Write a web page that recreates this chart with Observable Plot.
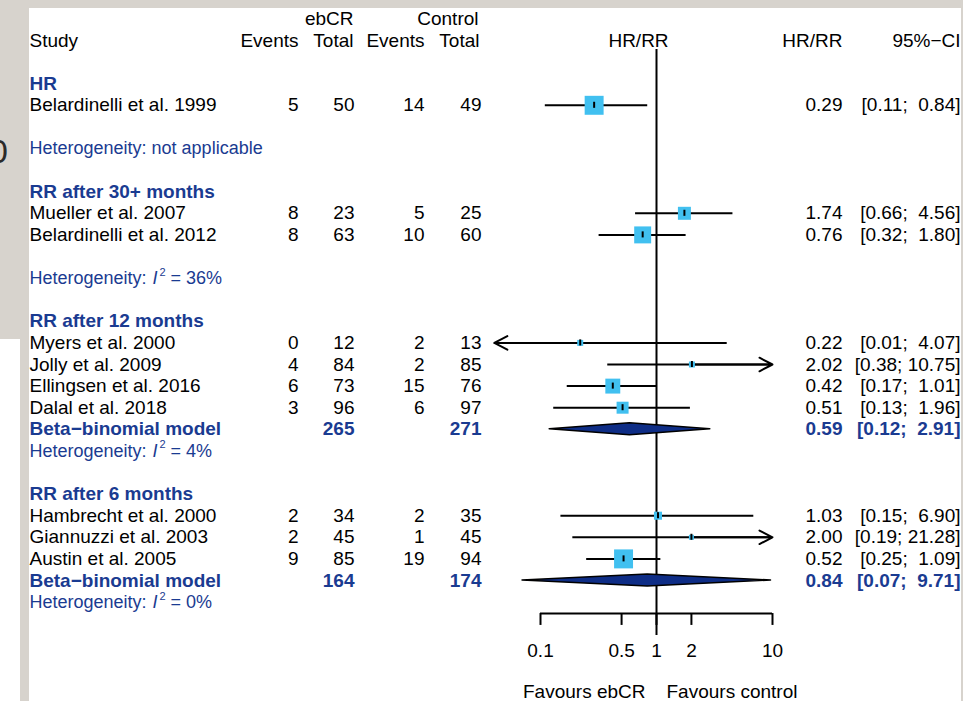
<!DOCTYPE html>
<html>
<head>
<meta charset="utf-8">
<script src="https://cdn.jsdelivr.net/npm/d3@7"></script>
<script src="https://cdn.jsdelivr.net/npm/@observablehq/plot@0.6"></script>
<style>
html, body { margin: 0; padding: 0; background: #fff; }
#page { position: relative; width: 963px; height: 701px; overflow: hidden; background: #d7d3cd; }
#panel { position: absolute; left: 29px; top: 8px; width: 932px; height: 693px; background: #fff; }
#under { position: absolute; left: 0; top: 339px; width: 20px; height: 362px; background: #fff; }
#slidenum { position: absolute; right: 955px; top: 131px; font: 34px 'Liberation Sans', Arial, sans-serif; color: #2a2a2a; line-height: 40px; }
#chart { position: absolute; left: 0; top: 0; }
#chart svg text { white-space: pre; }
</style>
</head>
<body>
<div id="page">
  <div id="panel"></div>
  <div id="under"></div>
  <div id="slidenum">0</div>
  <div id="chart"></div>
</div>
<script>
// ---------- data ----------
const studies = ["Belardinelli et al. 1999","Mueller et al. 2007","Belardinelli et al. 2012","Myers et al. 2000","Jolly et al. 2009","Ellingsen et al. 2016","Dalal et al. 2018","Hambrecht et al. 2000","Giannuzzi et al. 2003","Austin et al. 2005"];
const studyGroup = [0,1,1,2,2,2,2,3,3,3];
const ebcrEvents = [5,8,8,0,4,6,3,2,2,9];
const ebcrTotal = [50,23,63,12,84,73,96,34,45,85];
const controlEvents = [14,5,10,2,2,15,6,2,1,19];
const controlTotal = [49,25,60,13,85,76,97,35,45,94];
const estimate = [0.29,1.74,0.76,0.22,2.02,0.42,0.51,1.03,2.00,0.52];
const ciLower = [0.11,0.66,0.32,0.01,0.38,0.17,0.13,0.15,0.19,0.25];
const ciUpper = [0.84,4.56,1.80,4.07,10.75,1.01,1.96,6.90,21.28,1.09];
const weight = [100,47,80,10,10,62,40,18,7,100];

const groupNames = ["HR","RR after 30+ months","RR after 12 months","RR after 6 months"];
const groupI2 = [null,"36%","4%","0%"];

const summaryLabel = "Beta\u2212binomial model";
const summaryGroup = [2,3];
const summaryEbcrTotal = [265,164];
const summaryControlTotal = [271,174];
const summaryEstimate = [0.59,0.84];
const summaryLower = [0.12,0.07];
const summaryUpper = [2.91,9.71];

const tickValues = [0.1,0.5,1,2,10];
const tickLabels = ["0.1","0.5","1","2","10"];
const xLimits = [0.04, 10];

// ---------- row layout (derived) ----------
const groupRows = [], hetRows = [], studyRows = new Array(studies.length), summaryRows = new Array(summaryGroup.length);
let r = 2;
groupNames.forEach((g, gi) => {
  groupRows.push(r++);
  studyGroup.forEach((sg, i) => { if (sg === gi) studyRows[i] = r++; });
  const si = summaryGroup.indexOf(gi);
  if (si >= 0) summaryRows[si] = r;
  r++;
  hetRows.push(r++);
  r++;
});
const lastRow = hetRows[hetRows.length - 1];
const axisRow = lastRow + 0.53;

const fmt = v => v.toFixed(2);
const ciText = (l, u) => "[" + fmt(l) + ";" + (u < 10 ? "\u00A0\u00A0" : "\u00A0") + fmt(u) + "]";

const studyData = studies.map((s, i) => ({
  name: s, row: studyRows[i], e1: ebcrEvents[i], t1: ebcrTotal[i], e2: controlEvents[i], t2: controlTotal[i],
  est: estimate[i], lo: ciLower[i], hi: ciUpper[i], w: weight[i]
}));
const summaryData = summaryGroup.map((g, i) => ({
  row: summaryRows[i], t1: summaryEbcrTotal[i], t2: summaryControlTotal[i],
  est: summaryEstimate[i], lo: summaryLower[i], hi: summaryUpper[i]
}));
const diamondPts = summaryData.flatMap((d, k) => [
  {k, x: d.lo, y1: d.row, y2: d.row},
  {k, x: d.est, y1: d.row - 0.28, y2: d.row + 0.28},
  {k, x: d.hi, y1: d.row, y2: d.row}
]);
const groupData = groupNames.map((g, i) => ({name: g, row: groupRows[i]}));
const hetData = groupI2.map((v, i) => ({v, row: hetRows[i]}));

// ---------- style ----------
const FONT = "'Liberation Sans', Arial, Helvetica, sans-serif";
const BLUE = "#1a3b91";
const SQ = "#41c0f0";
const FS = 19;
const col = {study: 29, ev1: 298, tot1: 354, ev2: 424, tot2: 481, label: 638, hr: 842, ci: 960};

const T = (data, o) => Plot.text(data, {frameAnchor: "left", fontSize: FS, lineAnchor: "middle", ...o});

const plot = Plot.plot({
  width: 963,
  height: 701,
  margin: 0,
  style: {background: "transparent", fontFamily: FONT, overflow: "visible"},
  x: {type: "log", domain: [0.1, 10], range: [540, 772], axis: null},
  y: {type: "linear", domain: [0, 26], range: [40, 601.6], axis: null},
  r: {type: "sqrt", domain: [0, 100], range: [0, 10.7]},
  marks: [
    // header
    T(["ebCR"], {y: () => -1, text: d => d, dx: 353, textAnchor: "end"}),
    T(["Control"], {y: () => -1, text: d => d, dx: 478, textAnchor: "end"}),
    T(["Study"], {y: () => 0, text: d => d, dx: col.study, textAnchor: "start"}),
    T(["Events"], {y: () => 0, text: d => d, dx: col.ev1, textAnchor: "end"}),
    T(["Total"], {y: () => 0, text: d => d, dx: col.tot1 - 1, textAnchor: "end"}),
    T(["Events"], {y: () => 0, text: d => d, dx: col.ev2, textAnchor: "end"}),
    T(["Total"], {y: () => 0, text: d => d, dx: col.tot2 - 2, textAnchor: "end"}),
    T(["HR/RR"], {y: () => 0, text: d => d, dx: col.label, textAnchor: "middle"}),
    T(["HR/RR"], {y: () => 0, text: d => d, dx: col.hr, textAnchor: "end"}),
    T(["95%\u2212CI"], {y: () => 0, text: d => d, dx: col.ci, textAnchor: "end"}),

    // group headers
    T(groupData, {y: "row", text: "name", dx: col.study, textAnchor: "start", fill: BLUE, fontWeight: "bold"}),

    // study rows
    T(studyData, {y: "row", text: "name", dx: col.study, textAnchor: "start"}),
    T(studyData, {y: "row", text: "e1", dx: col.ev1, textAnchor: "end"}),
    T(studyData, {y: "row", text: "t1", dx: col.tot1, textAnchor: "end"}),
    T(studyData, {y: "row", text: "e2", dx: col.ev2, textAnchor: "end"}),
    T(studyData, {y: "row", text: "t2", dx: col.tot2, textAnchor: "end"}),
    T(studyData, {y: "row", text: d => fmt(d.est), dx: col.hr, textAnchor: "end"}),
    T(studyData, {y: "row", text: d => ciText(d.lo, d.hi), dx: col.ci, textAnchor: "end"}),

    // summary rows
    T(summaryData, {y: "row", text: () => summaryLabel, dx: col.study, textAnchor: "start", fill: BLUE, fontWeight: "bold"}),
    T(summaryData, {y: "row", text: "t1", dx: col.tot1, textAnchor: "end", fill: BLUE, fontWeight: "bold"}),
    T(summaryData, {y: "row", text: "t2", dx: col.tot2, textAnchor: "end", fill: BLUE, fontWeight: "bold"}),
    T(summaryData, {y: "row", text: d => fmt(d.est), dx: col.hr, textAnchor: "end", fill: BLUE, fontWeight: "bold"}),
    T(summaryData, {y: "row", text: d => ciText(d.lo, d.hi), dx: col.ci, textAnchor: "end", fill: BLUE, fontWeight: "bold"}),

    // heterogeneity
    T(hetData, {y: "row", text: d => d.v == null ? "Heterogeneity: not applicable" : "Heterogeneity:", dx: col.study, textAnchor: "start", fill: BLUE, fontSize: 18}),
    T(hetData.filter(d => d.v != null), {y: "row", text: () => "I", dx: 152, textAnchor: "start", fill: BLUE, fontSize: 18, fontStyle: "italic"}),
    T(hetData.filter(d => d.v != null), {y: "row", text: () => "2", dx: 159, dy: -6, textAnchor: "start", fill: BLUE, fontSize: 11}),
    T(hetData.filter(d => d.v != null), {y: "row", text: d => "= " + d.v, dx: 170, textAnchor: "start", fill: BLUE, fontSize: 18}),

    // forest
    Plot.ruleX([1], {x: d => d, y1: 0.42, y2: 27.55, stroke: "#000", strokeWidth: 2}),
    Plot.ruleY(studyData, {y: "row", x1: d => Math.max(d.lo, xLimits[0]), x2: d => Math.min(d.hi, xLimits[1]), stroke: "#000", strokeWidth: 2}),
    Plot.arrow(studyData.filter(d => d.lo < xLimits[0]), {x1: "est", x2: () => xLimits[0], y1: "row", y2: "row", stroke: "#000", strokeWidth: 2, headLength: 11, headAngle: 55, bend: 0}),
    Plot.arrow(studyData.filter(d => d.hi > xLimits[1]), {x1: "est", x2: () => xLimits[1], y1: "row", y2: "row", stroke: "#000", strokeWidth: 2, headLength: 11, headAngle: 55, bend: 0}),
    Plot.dot(studyData, {x: "est", y: "row", r: "w", symbol: "square", fill: SQ, stroke: null}),
    Plot.ruleX(studyData, {x: "est", y1: d => d.row - 0.14, y2: d => d.row + 0.14, stroke: "#000", strokeWidth: 2}),
    Plot.areaY(diamondPts, {x: "x", y1: "y1", y2: "y2", z: "k", fill: "#0e2d86", stroke: "#000", strokeWidth: 1.5}),

    // axis
    Plot.ruleY([axisRow], {y: d => d, x1: tickValues[0], x2: tickValues[tickValues.length - 1], stroke: "#000", strokeWidth: 2}),
    Plot.ruleX(tickValues, {x: d => d, y1: axisRow, y2: axisRow + 0.55, stroke: "#000", strokeWidth: 2}),
    Plot.text(tickValues, {x: d => d, y: () => axisRow + 1.71, text: (d, i) => tickLabels[i], fontSize: FS, lineAnchor: "middle"}),
    Plot.text(["Favours ebCR"], {x: () => 1, y: () => axisRow + 3.64, text: d => d, dx: -11, textAnchor: "end", fontSize: FS, lineAnchor: "middle"}),
    Plot.text(["Favours control"], {x: () => 1, y: () => axisRow + 3.64, text: d => d, dx: 10, textAnchor: "start", fontSize: FS, lineAnchor: "middle"})
  ]
});
document.getElementById("chart").appendChild(plot);
</script>
</body>
</html>
